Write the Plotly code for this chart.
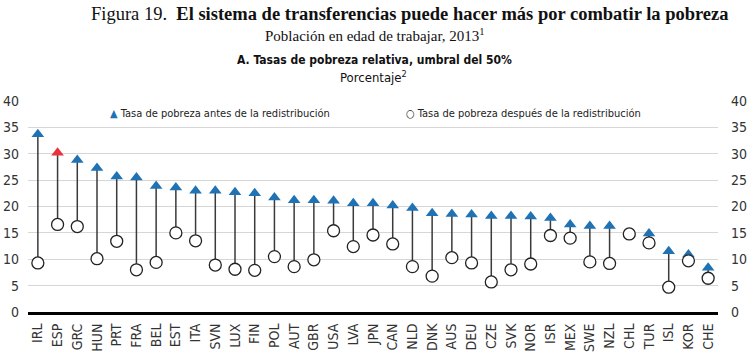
import plotly.graph_objects as go

countries = ["IRL","ESP","GRC","HUN","PRT","FRA","BEL","EST","ITA","SVN","LUX","FIN",
             "POL","AUT","GBR","USA","LVA","JPN","CAN","NLD","DNK","AUS","DEU","CZE",
             "SVK","NOR","ISR","MEX","SWE","NZL","CHL","TUR","ISL","KOR","CHE"]
before = [33.7,30.2,28.8,27.3,25.7,25.5,23.9,23.6,23.0,23.0,22.7,22.5,
          21.7,21.2,21.2,21.1,20.6,20.6,20.2,19.7,18.7,18.6,18.5,18.2,
          18.2,18.1,17.8,16.6,16.3,16.3,14.9,14.9,11.5,10.9,8.4]
after = [9.3,16.6,16.2,10.1,13.4,8.0,9.4,15.0,13.5,8.9,8.1,7.9,
         10.5,8.6,9.9,15.4,12.4,14.6,12.9,8.6,6.8,10.3,9.3,5.7,
         8.0,9.1,14.5,14.0,9.5,9.2,14.8,13.1,4.7,9.7,6.4]
highlight = "ESP"
y_ticks = [0,5,10,15,20,25,30,35,40]
legend_labels = ["Tasa de pobreza antes de la redistribución",
                 "Tasa de pobreza después de la redistribución"]

BLUE = "#1f72b4"
RED = "#e8323c"
NARROW = "DejaVu Sans Condensed, Liberation Sans, sans-serif"

sx, sy = [], []
for c, b, a in zip(countries, before, after):
    sx += [c, c, None]
    sy += [a, b, None]

fig = go.Figure()
fig.add_trace(go.Scatter(x=sx, y=sy, mode="lines", line=dict(color="#3a3a3a", width=1.5),
                         showlegend=False, hoverinfo="skip"))
fig.add_trace(go.Scatter(x=countries, y=before, mode="markers", name=legend_labels[0],
                         marker=dict(symbol="triangle-up", size=11,
                                     color=[RED if c == highlight else BLUE for c in countries],
                                     line=dict(width=0))))
fig.add_trace(go.Scatter(x=countries, y=after, mode="markers", name=legend_labels[1],
                         marker=dict(symbol="circle", size=12, color="white",
                                     line=dict(color="#222222", width=1.3))))
fig.add_trace(go.Scatter(x=countries, y=after, yaxis="y2", mode="markers",
                         marker=dict(opacity=0), showlegend=False, hoverinfo="skip"))

H_plot = 352 - 101 - 40
def py(pix):
    return (352 - 40 - pix) / H_plot
def px(pix):
    return (pix - 28) / 690

fig.update_layout(
    width=753, height=352,
    margin=dict(l=28, r=35, t=101, b=40, autoexpand=False),
    paper_bgcolor="white", plot_bgcolor="white",
    font=dict(family=NARROW, size=13, color="#333333"),
    showlegend=False,
    xaxis=dict(type="category", range=[-0.5, len(countries) - 0.5], tickangle=-90,
               showline=True, linecolor="black", linewidth=3, ticks="", showgrid=False,
               automargin=False, ticklabelstandoff=3,
               tickfont=dict(family=NARROW, size=14, color="#333")),
    yaxis=dict(range=[0, 40], tickvals=y_ticks, showgrid=True, gridcolor="#d6d6d6",
               gridwidth=1.2, zeroline=False, ticks="", ticklabelstandoff=8, automargin=False,
               tickfont=dict(family=NARROW, size=14, color="#333")),
    yaxis2=dict(range=[0, 40], tickvals=y_ticks, overlaying="y", side="right",
                showgrid=False, zeroline=False, ticks="", ticklabelstandoff=12, automargin=False,
                tickfont=dict(family=NARROW, size=14, color="#333")),
    annotations=[
        dict(text="Figura 19.  <b>El sistema de transferencias puede hacer más por combatir la pobreza</b>",
             x=px(410), y=py(14), xref="paper", yref="paper", xanchor="center", yanchor="middle",
             showarrow=False, font=dict(family="Liberation Serif, serif", size=18.5, color="#111")),
        dict(text="Población en edad de trabajar, 2013<sup>1</sup>",
             x=px(375), y=py(35), xref="paper", yref="paper", yanchor="middle", showarrow=False,
             font=dict(family="Liberation Serif, serif", size=15, color="#111")),
        dict(text="<b>A. Tasas de pobreza relativa, umbral del 50%</b>",
             x=px(374), y=py(60), xref="paper", yref="paper", yanchor="middle", showarrow=False,
             font=dict(family=NARROW, size=12, color="#111")),
        dict(text="Porcentaje<sup>2</sup>",
             x=px(373), y=py(77), xref="paper", yref="paper", yanchor="middle", showarrow=False,
             font=dict(family=NARROW, size=13, color="#111")),
        dict(text=f"<span style='color:{BLUE}'>▲</span> {legend_labels[0]}",
             x=px(108), y=py(113), xref="paper", yref="paper", xanchor="left", yanchor="middle",
             showarrow=False, font=dict(family=NARROW, size=11, color="#222")),
        dict(text=f"○ {legend_labels[1]}",
             x=px(404), y=py(113), xref="paper", yref="paper", xanchor="left", yanchor="middle",
             showarrow=False, font=dict(family=NARROW, size=11, color="#222")),
    ],
)

fig.write_html("out.html")
